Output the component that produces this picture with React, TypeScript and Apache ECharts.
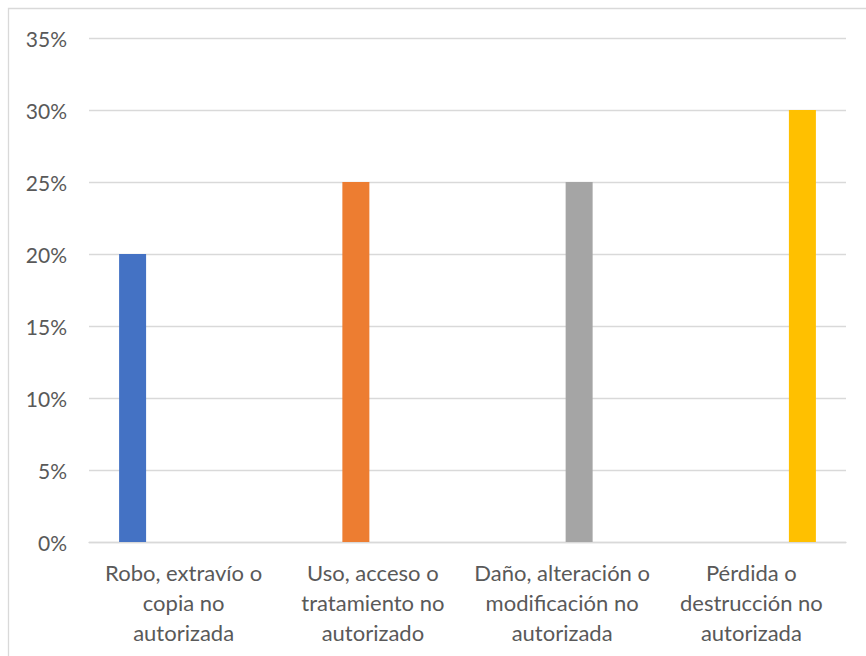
import React, { useEffect, useRef } from "react";
import * as echarts from "echarts";

const categories = [
  "Robo, extravío o\ncopia no\nautorizada",
  "Uso, acceso o\ntratamiento no\nautorizado",
  "Daño, alteración o\nmodificación no\nautorizada",
  "Pérdida o\ndestrucción no\nautorizada",
];
const seriesValues: (number | null)[][] = [
  [0.2, null, null, null],
  [null, 0.25, null, null],
  [null, null, 0.25, null],
  [null, null, null, 0.3],
];
const seriesColors = ["#4472C4", "#ED7D31", "#A5A5A5", "#FFC000"];
const yMax = 0.35;
const yInterval = 0.05;

const FONT = "Lato, 'Open Sans', sans-serif";

export default function App() {
  const ref = useRef<HTMLDivElement>(null);
  useEffect(() => {
    if (!ref.current) return;
    const chart = echarts.init(ref.current, null, { renderer: "svg" });
    chart.setOption({
      animation: false,
      backgroundColor: "#fff",
      graphic: [
        {
          type: "rect",
          shape: { x: 8.5, y: 8.5, width: 900, height: 700 },
          style: { fill: "none", stroke: "#d9d9d9", lineWidth: 1.3 },
          silent: true,
        },
      ],
      grid: { left: 89, right: 20, top: 38, bottom: 114, containLabel: false },
      xAxis: {
        type: "category",
        data: categories,
        axisLine: { show: true, lineStyle: { color: "#d9d9d9", width: 1.3 } },
        axisTick: { show: false },
        axisLabel: {
          color: "#595959",
          fontFamily: FONT,
          fontSize: 22,
          lineHeight: 30,
          margin: 15,
          interval: 0,
        },
      },
      yAxis: {
        type: "value",
        min: 0,
        max: yMax,
        interval: yInterval,
        axisLine: { show: false },
        axisTick: { show: false },
        splitLine: { lineStyle: { color: "#d9d9d9", width: 1.3 } },
        axisLabel: {
          color: "#595959",
          fontFamily: FONT,
          fontSize: 21,
          margin: 22,
          formatter: (v: number) => Math.round(v * 100) + "%",
        },
      },
      series: seriesValues.map((vals, i) => ({
        type: "bar",
        data: vals,
        barWidth: 27,
        barGap: "26%",
        itemStyle: { color: seriesColors[i] },
      })),
    });
    return () => chart.dispose();
  }, []);
  return (
    <div
      ref={ref}
      style={{ position: "absolute", left: 0, top: 0, width: 866, height: 656 }}
    />
  );
}
